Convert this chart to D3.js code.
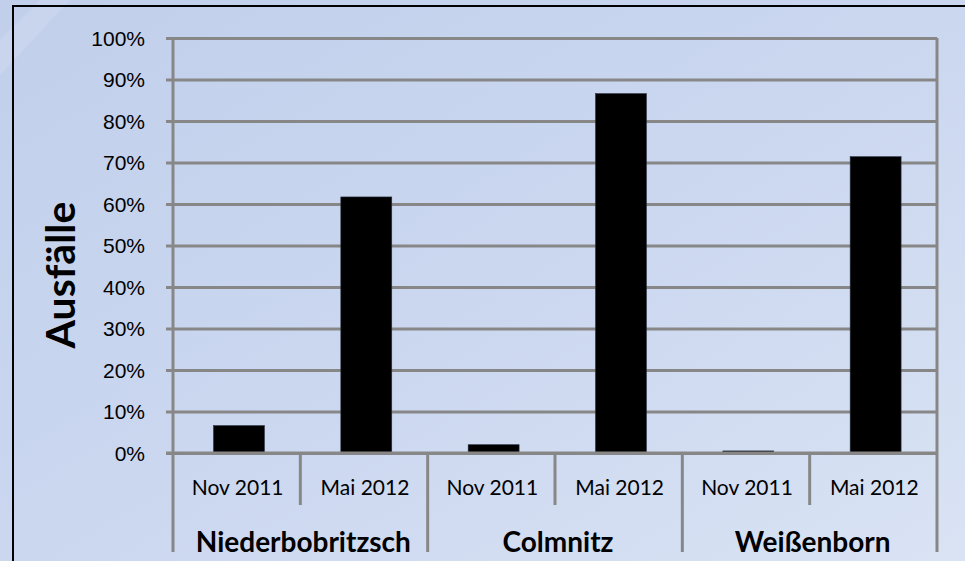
<!DOCTYPE html>
<html>
<head>
<meta charset="utf-8">
<script src="https://cdn.jsdelivr.net/npm/d3@7"></script>
<style>
  html, body { margin: 0; padding: 0; background: #cbd7ef; }
  svg { display: block; font-family: Lato, "Open Sans", sans-serif; }
</style>
</head>
<body>
<div id="chart"></div>
<script>
// chart data
const groups = ['Niederbobritzsch', 'Colmnitz', 'Weißenborn'];
const periods = ['Nov 2011', 'Mai 2012'];
const valuesNov = [0.066, 0.020, 0.005];
const valuesMai = [0.617, 0.866, 0.714];
const yTicks = [0, 0.1, 0.2, 0.3, 0.4, 0.5, 0.6, 0.7, 0.8, 0.9, 1.0];
const yTitle = 'Ausfälle';

const width = 965;
const height = 561;
const margin = { top: 38, right: 28, bottom: 108, left: 173 };
const plotW = width - margin.left - margin.right;
const plotH = height - margin.top - margin.bottom;
const gridColor = '#878787';

// flatten into one row per bar
const rows = [];
groups.forEach((g, i) => {
  rows.push({ key: g + '|' + periods[0], group: g, period: periods[0], value: valuesNov[i] });
  rows.push({ key: g + '|' + periods[1], group: g, period: periods[1], value: valuesMai[i] });
});

const svg = d3.select('#chart').append('svg')
  .attr('width', width)
  .attr('height', height);

// background gradient
const defs = svg.append('defs');
const grad = defs.append('linearGradient')
  .attr('id', 'bg')
  .attr('x1', '0%').attr('y1', '0%')
  .attr('x2', '100%').attr('y2', '100%');
grad.append('stop').attr('offset', '0%').attr('stop-color', '#c1cfeb');
grad.append('stop').attr('offset', '55%').attr('stop-color', '#ccd8f0');
grad.append('stop').attr('offset', '100%').attr('stop-color', '#d9e3f4');

svg.append('rect')
  .attr('width', width)
  .attr('height', height)
  .attr('fill', 'url(#bg)');

// faint light streak in the top left corner
svg.append('path')
  .attr('d', 'M0,40 L40,0 L70,0 L0,75 Z')
  .attr('fill', '#ffffff')
  .attr('opacity', 0.12);

// outer frame (runs off the right and bottom edge)
svg.append('rect')
  .attr('x', 13)
  .attr('y', 6)
  .attr('width', width + 20)
  .attr('height', height + 20)
  .attr('fill', 'none')
  .attr('stroke', '#000')
  .attr('stroke-width', 2);

const g = svg.append('g')
  .attr('transform', `translate(${margin.left},${margin.top})`);

const x = d3.scaleBand()
  .domain(rows.map(d => d.key))
  .range([0, plotW])
  .paddingInner(0.6)
  .paddingOuter(0.3)
  .align(0.53);

const y = d3.scaleLinear()
  .domain([0, 1])
  .range([plotH, 0]);

// horizontal grid lines with small ticks left of the axis
const yAxis = d3.axisLeft(y)
  .tickValues(yTicks)
  .tickSize(-plotW)
  .tickFormat(d3.format('.0%'));

const yg = g.append('g').call(yAxis);
yg.select('.domain').remove();
yg.selectAll('.tick line')
  .attr('x1', -7)
  .attr('stroke', gridColor)
  .attr('stroke-width', 3);
yg.selectAll('.tick text')
  .attr('x', -28)
  .attr('dy', '0.35em')
  .attr('fill', '#000')
  .style('font-size', '21px');

// right border of the plot area
g.append('line')
  .attr('x1', plotW).attr('x2', plotW)
  .attr('y1', 0).attr('y2', plotH)
  .attr('stroke', gridColor)
  .attr('stroke-width', 3);

// bars
g.selectAll('rect.bar')
  .data(rows)
  .enter()
  .append('rect')
  .attr('class', 'bar')
  .attr('x', d => x(d.key))
  .attr('y', d => y(d.value))
  .attr('width', x.bandwidth())
  .attr('height', d => plotH - y(d.value))
  .attr('fill', '#000')
  .attr('stroke', '#2a3140')
  .attr('stroke-width', 0.6);

// y axis line
g.append('line')
  .attr('x1', 0).attr('x2', 0)
  .attr('y1', 0).attr('y2', plotH)
  .attr('stroke', gridColor)
  .attr('stroke-width', 3);

// two-level x axis
const step = plotW / rows.length;
const catTick = 52;
const groupTick = 99;

// category separators
d3.range(rows.length + 1).forEach(i => {
  const isGroupEdge = i % periods.length === 0;
  g.append('line')
    .attr('x1', i * step).attr('x2', i * step)
    .attr('y1', plotH)
    .attr('y2', plotH + (isGroupEdge ? groupTick : catTick))
    .attr('stroke', gridColor)
    .attr('stroke-width', 3);
});

// x axis base line
g.append('line')
  .attr('x1', -7).attr('x2', plotW)
  .attr('y1', plotH).attr('y2', plotH)
  .attr('stroke', gridColor)
  .attr('stroke-width', 3);

g.selectAll('text.period')
  .data(rows)
  .enter()
  .append('text')
  .attr('class', 'period')
  .attr('x', (d, i) => (i + 0.5) * step + 1)
  .attr('y', plotH + 42)
  .attr('text-anchor', 'middle')
  .style('font-size', '21px')
  .text(d => d.period);

g.selectAll('text.group')
  .data(groups)
  .enter()
  .append('text')
  .attr('class', 'group')
  .attr('x', (d, i) => (i + 0.5) * step * periods.length + 3)
  .attr('y', plotH + 99)
  .attr('text-anchor', 'middle')
  .style('font-size', '28px')
  .style('font-weight', 'bold')
  .text(d => d);

// y axis title
svg.append('text')
  .attr('transform', 'translate(75,275) rotate(-90)')
  .attr('text-anchor', 'middle')
  .style('font-size', '41px')
  .style('font-weight', 'bold')
  .text(yTitle);
</script>
</body>
</html>
